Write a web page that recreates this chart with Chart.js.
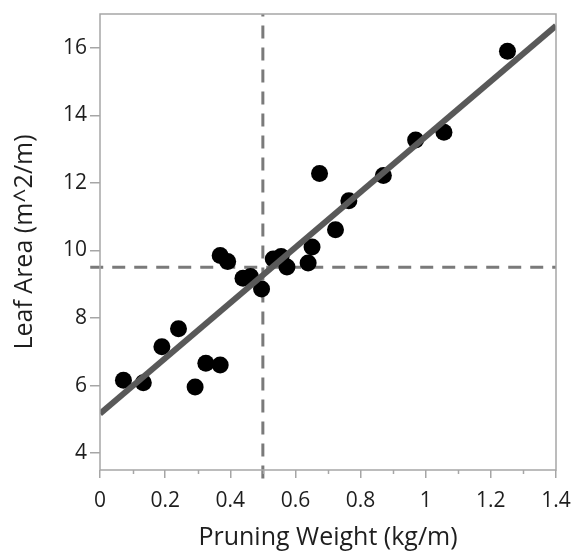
<!DOCTYPE html>
<html>
<head>
<meta charset="utf-8">
<script src="https://cdn.jsdelivr.net/npm/chart.js@4"></script>
<style>
html,body{margin:0;padding:0;background:#fff;}
#wrap{width:573px;height:554px;position:relative;}
</style>
</head>
<body>
<div id="wrap"><canvas id="c" width="573" height="554"></canvas></div>
<script>
const pruningWeight = [0.072,0.133,0.19,0.241,0.292,0.325,0.369,0.369,0.392,0.439,0.462,0.496,0.532,0.556,0.574,0.639,0.651,0.674,0.723,0.764,0.87,0.969,1.056,1.251];
const leafArea      = [6.16,6.08,7.15,7.68,5.96,6.66,6.61,9.85,9.67,9.18,9.23,8.86,9.75,9.82,9.51,9.63,10.10,12.28,10.61,11.47,12.22,13.27,13.50,15.90];
const fitX = [0, 1.4];
const fitY = [5.17, 16.65];
const refX = 0.5;
const refY = 9.5;
const refHSpan = [-0.03, 1.4];
const refVSpan = [3.25, 17.0];
const xTicks = [0,0.2,0.4,0.6,0.8,1,1.2,1.4];
const xMinorTicks = [0.1,0.3,0.5,0.7,0.9,1.1,1.3];
const yTicks = [4,6,8,10,12,14,16];
const xRange = [0, 1.4];
const yRange = [3.5, 17.0];

const FONT = "'Open Sans', 'Noto Sans', sans-serif";
const axisGray = '#a6a6a6';
const textColor = '#1e1e1e';

const framePlugin = {
  id: 'frame',
  afterDraw(chart) {
    const {ctx, chartArea: a, scales} = chart;
    ctx.save();
    ctx.strokeStyle = axisGray;
    ctx.lineWidth = 1.5;
    ctx.strokeRect(a.left, a.top, a.right - a.left, a.bottom - a.top);
    ctx.beginPath();
    xMinorTicks.forEach(v => {
      const px = Math.round(scales.x.getPixelForValue(v)) + 0.5;
      ctx.moveTo(px, a.bottom);
      ctx.lineTo(px, a.bottom + 4);
    });
    ctx.stroke();
    ctx.restore();
  }
};

const pts = pruningWeight.map((x, i) => ({x, y: leafArea[i]}));

new Chart(document.getElementById('c'), {
  type: 'scatter',
  data: {
    datasets: [
      {
        label: 'refV',
        type: 'line',
        data: [{x: refX, y: refVSpan[0]}, {x: refX, y: refVSpan[1]}],
        borderColor: '#7a7a7a',
        borderWidth: 3,
        borderDash: [13, 9],
        pointRadius: 0,
        fill: false,
        clip: false,
        order: 3
      },
      {
        label: 'refH',
        type: 'line',
        data: [{x: refHSpan[0], y: refY}, {x: refHSpan[1], y: refY}],
        borderColor: '#7a7a7a',
        borderWidth: 3,
        borderDash: [13, 9],
        pointRadius: 0,
        fill: false,
        clip: false,
        order: 3
      },
      {
        label: 'data',
        data: pts,
        backgroundColor: '#000',
        borderColor: '#000',
        pointRadius: 8.5,
        pointHoverRadius: 8.5,
        borderWidth: 0,
        order: 2
      },
      {
        label: 'fit',
        type: 'line',
        data: fitX.map((x, i) => ({x, y: fitY[i]})),
        borderColor: '#595959',
        borderWidth: 6,
        pointRadius: 0,
        fill: false,
        order: 1
      }
    ]
  },
  options: {
    responsive: false,
    animation: false,
    events: [],
    layout: {padding: {top: 14, right: 17, left: 0, bottom: 0}},
    plugins: {legend: {display: false}, tooltip: {enabled: false}},
    scales: {
      x: {
        type: 'linear',
        min: xRange[0], max: xRange[1],
        afterBuildTicks: s => { s.ticks = xTicks.map(v => ({value: v})); },
        afterFit: s => { s.height = 84; s.paddingLeft = 0; s.paddingRight = 0; },
        border: {display: false},
        grid: {drawOnChartArea: false, drawTicks: true, tickLength: 8, color: axisGray, lineWidth: 1.5},
        ticks: {color: textColor, font: {family: FONT, size: 21}, padding: 10, maxRotation: 0,
                callback: v => String(v)},
        title: {display: true, text: 'Pruning Weight (kg/m)', color: textColor,
                font: {family: FONT, size: 25}, padding: {top: 0, bottom: 1}}
      },
      y: {
        type: 'linear',
        min: yRange[0], max: yRange[1],
        afterBuildTicks: s => { s.ticks = yTicks.map(v => ({value: v})); },
        afterFit: s => { s.width = 100; s.paddingTop = 0; s.paddingBottom = 0; },
        border: {display: false},
        grid: {drawOnChartArea: false, drawTicks: true, tickLength: 10, color: axisGray, lineWidth: 1.5},
        ticks: {color: textColor, font: {family: FONT, size: 21}, padding: 3,
                callback: v => String(v)},
        title: {display: true, text: 'Leaf Area (m^2/m)', color: textColor,
                font: {family: FONT, size: 25}, padding: {top: 10, bottom: 0}}
      }
    }
  },
  plugins: [framePlugin]
});
</script>
</body>
</html>
